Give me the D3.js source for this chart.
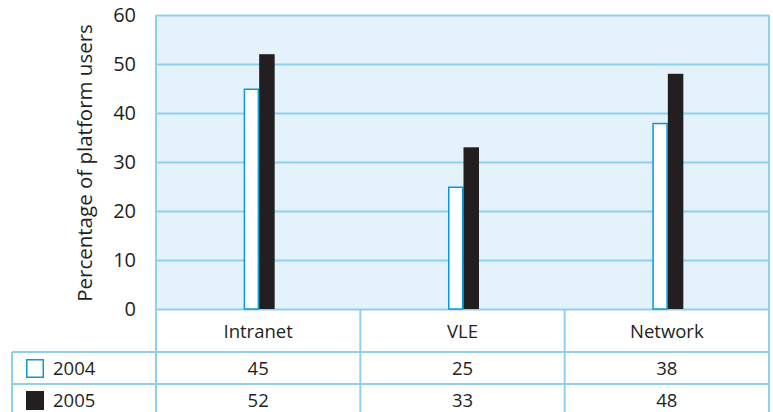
<!DOCTYPE html>
<html><head><meta charset="utf-8">
<script src="https://cdn.jsdelivr.net/npm/d3@7"></script>
<style>body{margin:0;background:#fff}svg{display:block}text{font-family:"Open Sans",sans-serif;fill:#231f20}</style>
</head><body>
<svg id="c" width="773" height="412"></svg>
<script>
const categories = ["Intranet", "VLE", "Network"];
const seriesNames = ["2004", "2005"];
const values2004 = [45, 25, 38];
const values2005 = [52, 33, 48];
const yTicks = [0, 10, 20, 30, 40, 50, 60];
const yLabel = "Percentage of platform users";

const svg = d3.select("#c");
const L = 156, R = 769, T = 15, B = 309;
const grid = "#8fd0f0", bg = "#e4f2fb", dark = "#231f20", blue = "#0a98d6";
const y = d3.scaleLinear().domain([0, 60]).range([B, T]);
const x = d3.scaleBand().domain(categories).range([L, R]);
const xs = d3.scaleBand().domain(seriesNames).range([-14.5, 16.5]);
const series = [values2004, values2005];

svg.append("rect").attr("x", L).attr("y", T).attr("width", R - L).attr("height", B - T).attr("fill", bg);

// gridlines + ticks
const ax = svg.append("g").attr("transform", `translate(${L},0)`)
  .call(d3.axisLeft(y).tickValues(yTicks).tickSize(15).tickPadding(5).tickFormat(d3.format("d")));
ax.select(".domain").remove();
ax.selectAll(".tick line").attr("stroke", grid).attr("stroke-width", 2).attr("x2", R - L);
ax.selectAll(".tick text").attr("font-size", 20).attr("fill", dark).style("font-family", '"Open Sans",sans-serif');

svg.append("text").attr("transform", `translate(92,163) rotate(-90)`)
  .attr("text-anchor", "middle").attr("font-size", 20.5).text(yLabel);

// bars
categories.forEach((c, i) => {
  seriesNames.forEach((s, j) => {
    const v = series[j][i];
    const bx = x(c) + x.bandwidth() / 2 + xs(s);
    if (j === 0) {
      svg.append("rect").attr("x", bx + 0.75).attr("y", y(v) + 0.75)
        .attr("width", xs.bandwidth() - 1.5).attr("height", B - y(v) - 0.75)
        .attr("fill", "#fff").attr("stroke", blue).attr("stroke-width", 1.5);
    } else {
      svg.append("rect").attr("x", bx).attr("y", y(v))
        .attr("width", xs.bandwidth()).attr("height", B - y(v)).attr("fill", dark);
    }
  });
});

// table lines
const rows = [B, 352, 384, 416];
const g = svg.append("g").attr("stroke", grid).attr("stroke-width", 2);
g.append("line").attr("x1", 12).attr("x2", R).attr("y1", rows[1]).attr("y2", rows[1]);
g.append("line").attr("x1", 12).attr("x2", R).attr("y1", rows[2]).attr("y2", rows[2]);
g.append("line").attr("x1", 12).attr("x2", 12).attr("y1", rows[1]).attr("y2", 412);
[L, ...categories.slice(1).map(c => x(c)), R].forEach((xx, k) => {
  g.append("line").attr("x1", xx).attr("x2", xx).attr("y1", (k === 0 || k === 3) ? T : B).attr("y2", 412);
});

// category labels
categories.forEach(c => {
  svg.append("text").attr("x", x(c) + x.bandwidth() / 2).attr("y", 338)
    .attr("text-anchor", "middle").attr("font-size", 18.5).text(c);
});
// table rows
seriesNames.forEach((s, j) => {
  const ty = j === 0 ? 375 : 407;
  svg.append("rect").attr("x", j === 0 ? 26.75 : 26).attr("y", (j === 0 ? 359.75 : 391))
    .attr("width", j === 0 ? 16.5 : 18).attr("height", j === 0 ? 17.5 : 19)
    .attr("fill", j === 0 ? "#fff" : dark).attr("stroke", j === 0 ? blue : "none").attr("stroke-width", 1.5);
  svg.append("text").attr("x", 53).attr("y", ty).attr("font-size", 18.5).text(s);
  categories.forEach((c, i) => {
    svg.append("text").attr("x", x(c) + x.bandwidth() / 2).attr("y", ty)
      .attr("text-anchor", "middle").attr("font-size", 18.5).text(series[j][i]);
  });
});
</script>
</body></html>
